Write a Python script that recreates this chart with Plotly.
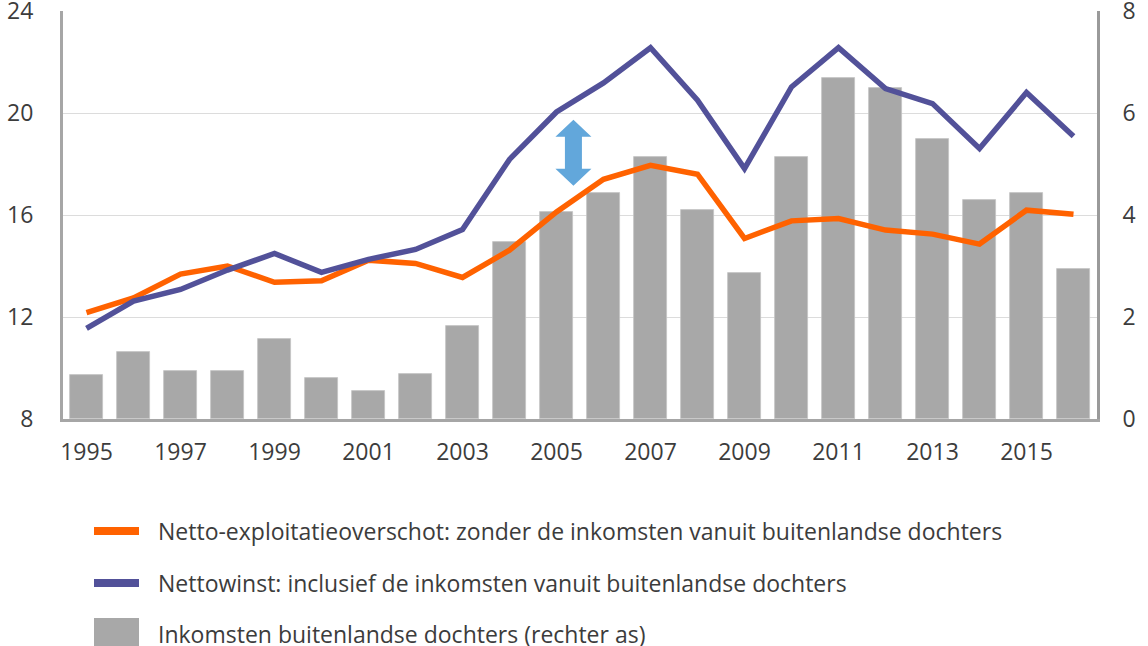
import plotly.graph_objects as go

years = list(range(1995, 2017))
netto_exploitatie = [12.17, 12.75, 13.68, 14.00, 13.36, 13.42, 14.23, 14.10, 13.55, 14.62, 16.12,
                     17.40, 17.95, 17.60, 15.08, 15.77, 15.86, 15.41, 15.25, 14.86, 16.19, 16.03]
nettowinst = [11.55, 12.62, 13.08, 13.84, 14.49, 13.75, 14.26, 14.65, 15.43, 18.18, 20.04,
              21.18, 22.56, 20.50, 17.82, 21.02, 22.56, 20.96, 20.37, 18.61, 20.80, 19.09]
inkomsten_dochters = [0.87, 1.31, 0.95, 0.95, 1.57, 0.81, 0.54, 0.88, 1.82, 3.47, 4.05,
                      4.44, 5.13, 4.09, 2.87, 5.13, 6.69, 6.50, 5.50, 4.29, 4.43, 2.94]
x_ticks = [1995, 1997, 1999, 2001, 2003, 2005, 2007, 2009, 2011, 2013, 2015]
left_ticks = [8, 12, 16, 20, 24]
right_ticks = [0, 2, 4, 6, 8]
legend_labels = [
    "Netto-exploitatieoverschot: zonder de inkomsten vanuit buitenlandse dochters",
    "Nettowinst: inclusief de inkomsten vanuit buitenlandse dochters",
    "Inkomsten buitenlandse dochters (rechter as)",
]

ORANGE = "#FF6200"
PURPLE = "#525199"
GREY = "#A8A8A8"
ARROW = "#62A7DB"
TXT = "#3C3C3C"
FONT = "Open Sans"

W, H = 1148, 646
L, R, T, B = 63, 51, 11, 227
PW, PH = W - L - R, H - T - B


def px_x(px):
    return (px - L) / PW


def px_y(py):
    return (H - B - py) / PH


fig = go.Figure()
fig.add_trace(go.Bar(x=years, y=inkomsten_dochters, name=legend_labels[2], marker_color=GREY,
                     marker_line=dict(color="#C4C4C4", width=0.8), width=0.71, yaxis="y",
                     showlegend=False))
fig.add_trace(go.Scatter(x=years, y=netto_exploitatie, name=legend_labels[0], mode="lines",
                         line=dict(color=ORANGE, width=5.5), yaxis="y2", showlegend=False))
fig.add_trace(go.Scatter(x=years, y=nettowinst, name=legend_labels[1], mode="lines",
                         line=dict(color=PURPLE, width=5.5), yaxis="y2", showlegend=False))

shapes = []
# double-headed block arrow (pixel sized, anchored in data space)
arrow_path = ("M 0 33 L 18 16 L 8.5 16 L 8.5 -16 L 18 -16 L 0 -33 L -18 -16 L -8.5 -16 "
              "L -8.5 16 L -18 16 Z")
shapes.append(dict(type="path", xref="x", yref="y2", xsizemode="pixel", ysizemode="pixel",
                   xanchor=2005.36, yanchor=18.44, path=arrow_path, fillcolor=ARROW,
                   line=dict(width=0), layer="above"))

# manual legend
rows = [531, 583, 634]
shapes.append(dict(type="line", xref="paper", yref="paper", x0=px_x(94), x1=px_x(139),
                   y0=px_y(rows[0]), y1=px_y(rows[0]), line=dict(color=ORANGE, width=8)))
shapes.append(dict(type="line", xref="paper", yref="paper", x0=px_x(94), x1=px_x(139),
                   y0=px_y(rows[1]), y1=px_y(rows[1]), line=dict(color=PURPLE, width=8)))
shapes.append(dict(type="rect", xref="paper", yref="paper", x0=px_x(94), x1=px_x(139),
                   y0=px_y(618), y1=px_y(650), fillcolor=GREY, line=dict(width=0)))

annotations = []
for lab, ry in zip(legend_labels, rows):
    annotations.append(dict(text=lab, xref="paper", yref="paper", x=px_x(156), y=px_y(ry),
                            xanchor="left", yanchor="middle", showarrow=False,
                            font=dict(family=FONT, size=23, color=TXT)))

fig.update_layout(
    width=W, height=H,
    margin=dict(l=L, r=R, t=T, b=B, autoexpand=False),
    paper_bgcolor="white", plot_bgcolor="white",
    font=dict(family=FONT, size=23, color=TXT),
    showlegend=False,
    bargap=0,
    xaxis=dict(range=[1994.5, 2016.5], tickmode="array", tickvals=x_ticks,
               ticks="", showgrid=False, showline=True, linecolor="#A6A6A6", linewidth=3,
               tickfont=dict(size=23), ticklabelstandoff=10, zeroline=False),
    yaxis=dict(range=[0, 8], tickmode="array", tickvals=right_ticks, side="right",
               showgrid=True, gridcolor="#DCDCDC", gridwidth=1, showline=True,
               linecolor="#9A9A9A", linewidth=3, ticks="", zeroline=False,
               tickfont=dict(size=23), ticklabelstandoff=18, ticklabeloverflow="allow"),
    yaxis2=dict(range=[8, 24], tickmode="array", tickvals=left_ticks, side="left",
                overlaying="y", showgrid=False, showline=True, linecolor="#A6A6A6",
                linewidth=3, ticks="", zeroline=False, tickfont=dict(size=23),
                ticklabelstandoff=22, ticklabeloverflow="allow"),
    shapes=shapes,
    annotations=annotations,
)

fig.write_html("out.html", config={"displayModeBar": False},
               post_script="document.body.style.margin='0px';")
